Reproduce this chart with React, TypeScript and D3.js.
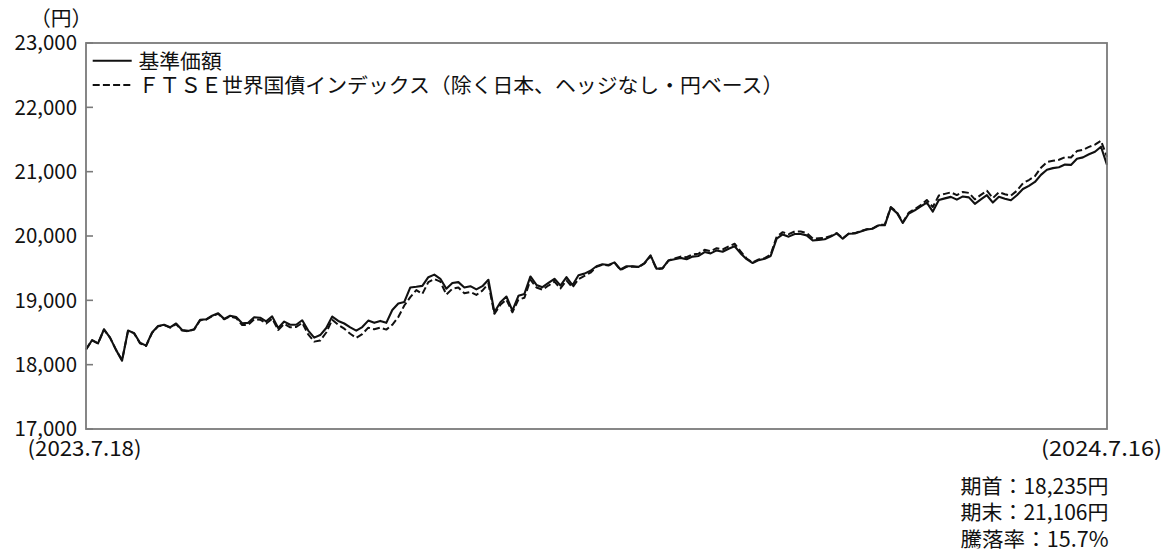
import React from "react";
import * as d3 from "d3";

// ---- data ----
const yTicks = [17000, 18000, 19000, 20000, 21000, 22000, 23000];
const startLabel = "(2023.7.18)";
const endLabel = "(2024.7.16)";
const unitLabel = "（円）";
const seriesNames = ["基準価額", "ＦＴＳＥ世界国債インデックス（除く日本、ヘッジなし・円ベース）"];
const summaryLines = ["期首：18,235円", "期末：21,106円", "騰落率：15.7%"];

// 基準価額 (fund NAV), evenly spaced observations
const navValues = [
  18235, 18380, 18330, 18550, 18420, 18230, 18062, 18530, 18490, 18340,
  18296, 18500, 18600, 18620, 18581, 18640, 18540, 18525, 18550, 18696,
  18705, 18760, 18800, 18712, 18760, 18740, 18643, 18650, 18737, 18730,
  18674, 18750, 18571, 18670, 18620, 18620, 18690, 18530, 18420, 18460,
  18570, 18748, 18680, 18640, 18580, 18530, 18585, 18685, 18650, 18680,
  18650, 18850, 18950, 18975, 19200, 19210, 19225, 19360, 19400, 19335,
  19180, 19270, 19283, 19200, 19220, 19170, 19220, 19320, 18815, 18971,
  19059, 18841, 19070, 19100, 19371, 19240, 19205, 19270, 19335, 19230,
  19360, 19235, 19390, 19415, 19460, 19530, 19560, 19550, 19590, 19480,
  19530, 19530, 19520, 19580, 19698, 19491, 19500, 19620, 19640, 19660,
  19640, 19680, 19690, 19750, 19730, 19776, 19755, 19802, 19840, 19730,
  19640, 19580, 19625, 19645, 19690, 19958, 20025, 19990, 20030, 20030,
  20010, 19930, 19940, 19950, 19990, 20040, 19958, 20036, 20040, 20070,
  20100, 20114, 20166, 20166, 20441, 20360, 20202, 20350, 20400, 20460,
  20520, 20380, 20560, 20585, 20608, 20566, 20615, 20600, 20500, 20570,
  20634, 20520, 20610, 20580, 20556, 20634, 20730, 20780, 20840, 20950,
  21030, 21055, 21070, 21110, 21105, 21200, 21222, 21270, 21310, 21388,
  21106,
];

// Benchmark (rebased), same observation points
const benchValues = [
  18235, 18380, 18330, 18545, 18420, 18230, 18070, 18525, 18490, 18330,
  18290, 18495, 18595, 18615, 18575, 18630, 18530, 18520, 18545, 18690,
  18700, 18755, 18790, 18705, 18750, 18725, 18615, 18620, 18705, 18700,
  18640, 18715, 18540, 18635, 18580, 18585, 18650, 18470, 18358, 18374,
  18500, 18698, 18620, 18560, 18480, 18416, 18475, 18575, 18550, 18575,
  18545, 18620, 18740, 18920, 19050, 19160, 19100, 19283, 19330, 19290,
  19090, 19180, 19200, 19110, 19130, 19085, 19150, 19260, 18790, 18930,
  19010, 18815, 19010, 19040, 19320, 19200, 19165, 19230, 19290, 19185,
  19310, 19200, 19330, 19380, 19430, 19520, 19555, 19540, 19585, 19470,
  19520, 19525, 19515, 19575, 19690, 19485, 19495, 19620, 19650, 19680,
  19670, 19715, 19725, 19785, 19765, 19810, 19790, 19838, 19880, 19760,
  19650, 19590, 19635, 19655, 19710, 19990, 20060, 20030, 20070, 20070,
  20045, 19960, 19965, 19970, 20000, 20045, 19965, 20040, 20045, 20075,
  20105, 20120, 20172, 20175, 20450, 20375, 20215, 20365, 20420, 20480,
  20560, 20450, 20630, 20655, 20678, 20636, 20685, 20670, 20570, 20640,
  20704, 20590, 20680, 20650, 20626, 20704, 20820, 20870, 20930, 21060,
  21150, 21170, 21185, 21225, 21220, 21320, 21340, 21385, 21420, 21480,
  21230,
];

// ---- layout / style ----
const W = 1165;
const H = 551;
const plot = { left: 86, top: 43, right: 1107, bottom: 429 };
const FS = 20.8;
const FONT = "'Noto Sans CJK JP', 'Noto Sans', sans-serif";
const frameColor = "#7a7a7a";
const lineColor = "#111";
const dash = "7,3.2";

function textWidth(s: string) {
  let w = 0;
  for (const c of s) {
    const code = c.codePointAt(0) || 0;
    w += code > 255 || c === "%" ? FS : FS / 2;
  }
  return w;
}

const fmt = (v: number) => d3.format(",")(v);

export default function App() {
  const x = d3.scaleLinear().domain([0, navValues.length - 1]).range([plot.left, plot.right]);
  const y = d3.scaleLinear().domain([17000, 23000]).range([plot.bottom, plot.top]);
  const line = d3
    .line<number>()
    .x((_, i) => x(i))
    .y((d) => y(d));

  const T = (props: { x: number; y: number; s: string; anchor?: string; len?: number }) => (
    <text
      x={props.x}
      y={props.y}
      textAnchor={props.anchor || "start"}
      fontFamily={FONT}
      fontSize={FS}
      fill="#111"
      textLength={props.len ?? textWidth(props.s)}
      lengthAdjust="spacingAndGlyphs"
    >
      {props.s}
    </text>
  );

  return (
    <svg
      width={W}
      height={H}
      style={{ position: "absolute", left: 0, top: 0, background: "#fff" }}
    >
      <rect x={0} y={0} width={W} height={H} fill="#fff" />
      {/* unit */}
      <T x={30} y={26} s={unitLabel} />
      {/* y ticks */}
      {yTicks.map((t) => (
        <g key={t}>
          <line x1={plot.left} x2={plot.left + 7} y1={y(t)} y2={y(t)} stroke={frameColor} strokeWidth={1.6} />
          <T x={77} y={y(t) + 7.2} s={fmt(t)} anchor="end" />
        </g>
      ))}
      {/* lines */}
      <path d={line(benchValues) || ""} fill="none" stroke={lineColor} strokeWidth={2} strokeDasharray={dash} strokeLinejoin="round" />
      <path d={line(navValues) || ""} fill="none" stroke={lineColor} strokeWidth={2.1} strokeLinejoin="round" />
      {/* frame */}
      <rect
        x={plot.left}
        y={plot.top}
        width={plot.right - plot.left}
        height={plot.bottom - plot.top}
        fill="none"
        stroke={frameColor}
        strokeWidth={1.8}
      />
      {/* legend */}
      <line x1={92.7} x2={131.7} y1={60.7} y2={60.7} stroke={lineColor} strokeWidth={2} />
      <T x={138.5} y={68.5} s={seriesNames[0]} />
      <line x1={92.7} x2={131.7} y1={85} y2={85} stroke={lineColor} strokeWidth={2} strokeDasharray={dash} />
      <T x={138.5} y={92.5} s={seriesNames[1]} />
      {/* date labels */}
      <T x={27.5} y={456} s={startLabel} len={114} />
      <T x={1041} y={456} s={endLabel} len={121} />
      {/* summary */}
      {summaryLines.map((s, i) => (
        <T key={s} x={960.5} y={493.5 + i * 26.5} s={s} len={148} />
      ))}
    </svg>
  );
}
